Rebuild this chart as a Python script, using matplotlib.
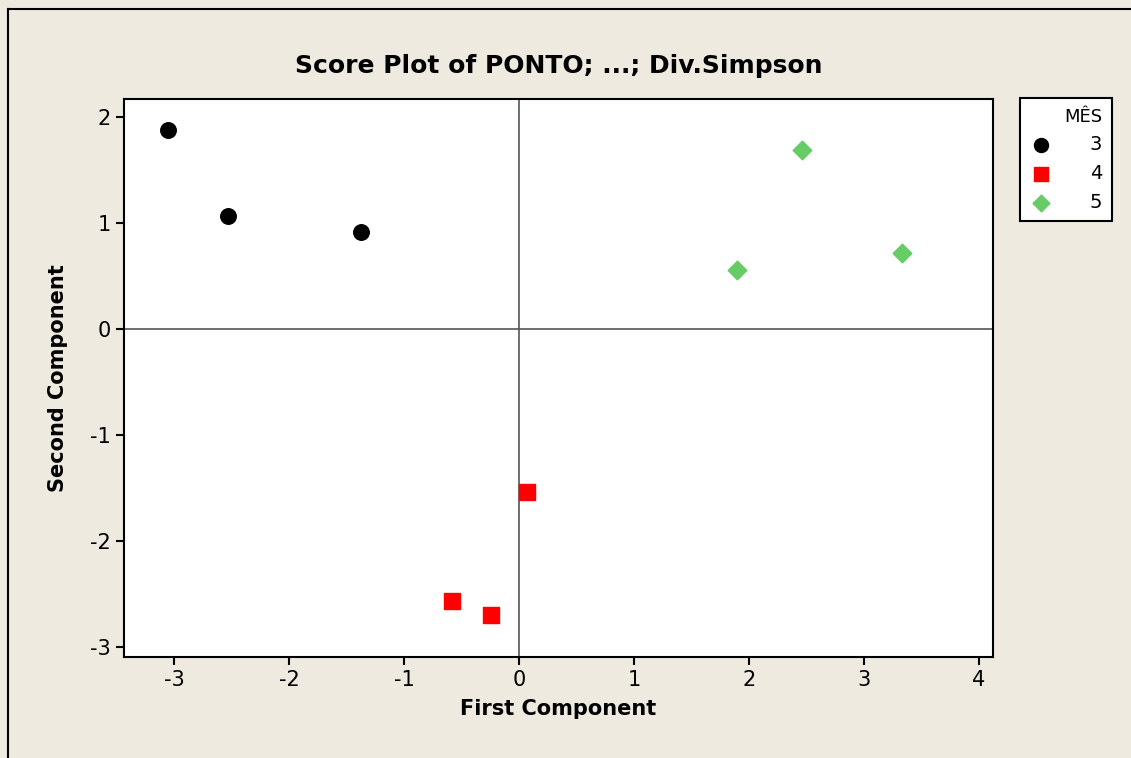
import matplotlib.pyplot as plt

plt.rcParams['axes.unicode_minus'] = False

# Score values per month (MÊS)
mes_labels = ['3', '4', '5']
x_mes3 = [-3.05, -2.53, -1.37]
y_mes3 = [1.88, 1.07, 0.92]
x_mes4 = [-0.58, -0.24, 0.07]
y_mes4 = [-2.57, -2.70, -1.54]
x_mes5 = [2.46, 1.90, 3.33]
y_mes5 = [1.69, 0.56, 0.72]

bg = '#EEEAE0'
fig = plt.figure(figsize=(11.31, 7.58), dpi=100, facecolor=bg)
ax = fig.add_axes([0.1096, 0.1332, 0.768, 0.7362])
ax.set_facecolor('white')

# figure frame (left/top visible)
fig.add_artist(plt.Line2D([0.0075, 0.0075], [0, 0.988], color='black', lw=1.5, transform=fig.transFigure))
fig.add_artist(plt.Line2D([0.0075, 1], [0.988, 0.988], color='black', lw=1.5, transform=fig.transFigure))

ax.axvline(0, color='#555555', lw=1.2, zorder=1)
ax.axhline(0, color='#555555', lw=1.2, zorder=1)

h1 = ax.scatter(x_mes3, y_mes3, marker='o', s=125, color='black', zorder=3, label=mes_labels[0])
h2 = ax.scatter(x_mes4, y_mes4, marker='s', s=120, color='#FF0000', zorder=3, label=mes_labels[1])
h3 = ax.scatter(x_mes5, y_mes5, marker='D', s=90, color='#66CC66', zorder=3, label=mes_labels[2])

ax.set_xlim(-3.435, 4.12)
ax.set_ylim(-3.094, 2.17)
ax.set_xticks([-3, -2, -1, 0, 1, 2, 3, 4])
ax.set_yticks([-3, -2, -1, 0, 1, 2])
ax.tick_params(labelsize=15, length=6, width=1.5, color='black')
for sp in ax.spines.values():
    sp.set_linewidth(1.5)

ax.set_title('Score Plot of PONTO; ...; Div.Simpson', fontsize=18, fontweight='bold', pad=19)
ax.set_xlabel('First Component', fontsize=15, fontweight='bold', labelpad=6)
ax.set_ylabel('Second Component', fontsize=15, fontweight='bold', labelpad=16)

leg = fig.legend(handles=[h1, h2, h3], labels=mes_labels, title='MÊS',
                 loc='upper left', bbox_to_anchor=(0.9015, 0.871),
                 frameon=True, fancybox=False, edgecolor='black', facecolor='white', framealpha=1,
                 fontsize=14, title_fontsize=13, handletextpad=1.9, handlelength=1.2,
                 borderpad=0.5, borderaxespad=0, labelspacing=0.5, alignment='right',
                 scatterpoints=1, markerscale=0.9)
leg.get_frame().set_linewidth(1.5)

fig.savefig('out.png', dpi=100, facecolor=bg)
